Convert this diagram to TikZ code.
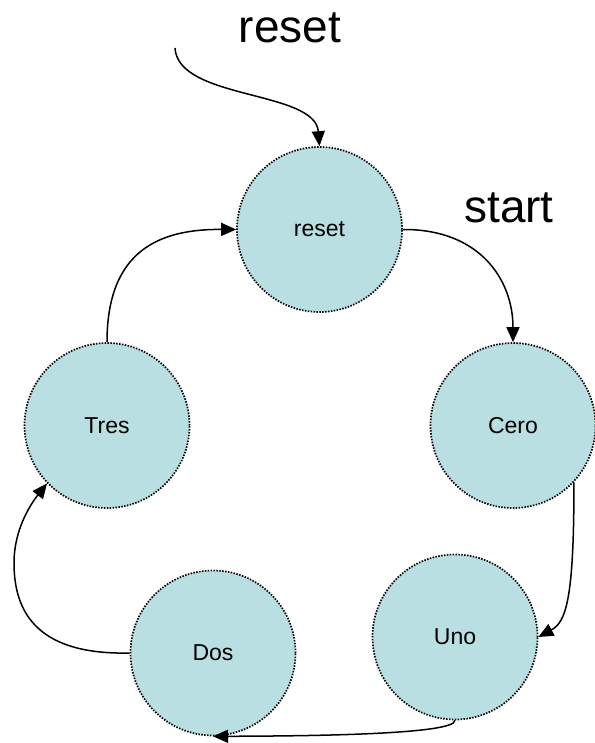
\documentclass[tikz,border=0pt]{standalone}
\usepackage{fontspec}
\setmainfont{Liberation Sans}
\usetikzlibrary{arrows.meta}
\definecolor{statefill}{RGB}{185,223,227}
\tikzset{
  state/.style={circle, minimum size=165pt, inner sep=0pt, fill=statefill, draw=black,
    line width=1.7pt, dash pattern=on 1.5pt off 1.4pt, font=\fontsize{23}{27}\selectfont},
  edge/.style={line width=1.5pt, -{Triangle[width=13pt,length=15pt]}},
  title/.style={font=\fontsize{46}{52}\selectfont, inner sep=0pt}
}
\begin{document}
\begin{tikzpicture}[x=1pt,y=-1pt]
\useasboundingbox (0,0) rectangle (594,743);
\node[state] (reset) at (319.5,229.5) {reset};
\node[state] (cero) at (513,425.5) {Cero};
\node[state] (uno) at (455,637) {Uno};
\node[state] (dos) at (213,653) {Dos};
\node[state] (tres) at (107,425.5) {Tres};
\node[title] (lreset) at (290,28) {reset};
\node[title] (lstart) at (509,208) {start};
\coordinate (rs) at (175,48);
\draw[edge] (rs) .. controls (178,100) and (315,90) .. (reset.north);
\draw[edge] (reset.east) .. controls (480,229) and (513,280) .. (cero.north);
\draw[edge] (cero.-43) .. controls (574,600) and (566,622) .. (uno.east);
\draw[edge] (uno.south) .. controls (455,735) and (300,736) .. (dos.south);
\draw[edge] (dos.west) .. controls (40,655) and (14,615) .. (14,563) .. controls (14,530) and (30,505) .. (tres.224);
\draw[edge] (tres.north) .. controls (107,250) and (160,229) .. (reset.west);
\end{tikzpicture}
\end{document}
